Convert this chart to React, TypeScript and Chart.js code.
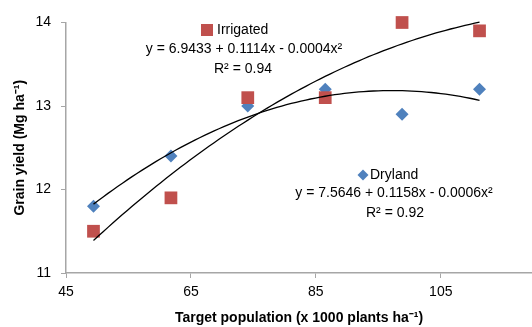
import React, { useEffect, useRef } from "react";
import { Chart, registerables } from "chart.js";

Chart.register(...registerables);

// Target population (x 1000 plants/ha)
const populations = [49.4, 61.8, 74.1, 86.5, 98.8, 111.2];
// Grain yield (Mg/ha)
const irrigatedYield = [11.5, 11.9, 13.1, 13.1, 14.0, 13.9];
const drylandYield = [11.8, 12.4, 13.0, 13.2, 12.9, 13.2];

const xTickValues = [45, 65, 85, 105];
const yTickValues = [11, 12, 13, 14];

const irrigatedName = "Irrigated";
const irrigatedEquation = "y = 6.9433 + 0.1114x - 0.0004x²";
const irrigatedR2 = "R² = 0.94";
const drylandName = "Dryland";
const drylandEquation = "y = 7.5646 + 0.1158x - 0.0006x²";
const drylandR2 = "R² = 0.92";

const xTitle = "Target population (x 1000 plants ha⁻¹)";
const yTitle = "Grain yield (Mg ha⁻¹)";

const RED = "#C0504D";
const BLUE = "#4F81BD";
const AXIS = "#A6A6A6";
const FONT = "'Liberation Sans', Arial, sans-serif";

// least-squares quadratic fit (Excel polynomial trendline, order 2)
function quadFit(xs: number[], ys: number[]) {
  const n = xs.length;
  let s1 = 0, s2 = 0, s3 = 0, s4 = 0, t0 = 0, t1 = 0, t2 = 0;
  for (let i = 0; i < n; i++) {
    const x = xs[i], y = ys[i];
    s1 += x; s2 += x * x; s3 += x * x * x; s4 += x * x * x * x;
    t0 += y; t1 += x * y; t2 += x * x * y;
  }
  const A = [
    [n, s1, s2, t0],
    [s1, s2, s3, t1],
    [s2, s3, s4, t2],
  ];
  for (let c = 0; c < 3; c++) {
    let p = c;
    for (let r = c + 1; r < 3; r++) if (Math.abs(A[r][c]) > Math.abs(A[p][c])) p = r;
    [A[c], A[p]] = [A[p], A[c]];
    for (let r = 0; r < 3; r++) {
      if (r === c) continue;
      const f = A[r][c] / A[c][c];
      for (let k = c; k < 4; k++) A[r][k] -= f * A[c][k];
    }
  }
  return [A[0][3] / A[0][0], A[1][3] / A[1][1], A[2][3] / A[2][2]];
}

function trendPoints(xs: number[], ys: number[]) {
  const [a, b, c] = quadFit(xs, ys);
  const lo = Math.min(...xs), hi = Math.max(...xs);
  const pts: { x: number; y: number }[] = [];
  const steps = 80;
  for (let i = 0; i <= steps; i++) {
    const x = lo + ((hi - lo) * i) / steps;
    pts.push({ x, y: a + b * x + c * x * x });
  }
  return pts;
}

const annotationPlugin = {
  id: "annotations",
  afterDatasetsDraw(chart: any) {
    const ctx = chart.ctx as CanvasRenderingContext2D;
    ctx.save();
    ctx.fillStyle = "#000";
    ctx.font = `14px ${FONT}`;
    ctx.textBaseline = "middle";

    // Irrigated legend + equation
    ctx.fillStyle = RED;
    ctx.fillRect(201, 24, 12, 12);
    ctx.fillStyle = "#000";
    ctx.textAlign = "left";
    ctx.fillText(irrigatedName, 217, 30);
    ctx.textAlign = "center";
    ctx.fillText(irrigatedEquation, 244, 49);
    ctx.fillText(irrigatedR2, 243, 69);

    // Dryland legend + equation
    ctx.fillStyle = BLUE;
    ctx.beginPath();
    ctx.moveTo(363, 169.5);
    ctx.lineTo(368.5, 175);
    ctx.lineTo(363, 180.5);
    ctx.lineTo(357.5, 175);
    ctx.closePath();
    ctx.fill();
    ctx.fillStyle = "#000";
    ctx.textAlign = "left";
    ctx.fillText(drylandName, 370, 175);
    ctx.textAlign = "center";
    ctx.fillText(drylandEquation, 394, 193);
    ctx.fillText(drylandR2, 395, 213);
    ctx.restore();
  },
};

export default function App() {
  const ref = useRef<HTMLCanvasElement | null>(null);

  useEffect(() => {
    if (!ref.current) return;
    const chart = new Chart(ref.current, {
      type: "scatter",
      data: {
        datasets: [
          {
            label: "Irrigated trend",
            data: trendPoints(populations, irrigatedYield),
            showLine: true,
            borderColor: "#000",
            borderWidth: 1.3,
            pointRadius: 0,
            tension: 0,
            clip: false,
          } as any,
          {
            label: "Dryland trend",
            data: trendPoints(populations, drylandYield),
            showLine: true,
            borderColor: "#000",
            borderWidth: 1.3,
            pointRadius: 0,
            tension: 0,
            clip: false,
          } as any,
          {
            label: irrigatedName,
            data: populations.map((x, i) => ({ x, y: irrigatedYield[i] })),
            pointStyle: "rect",
            pointRadius: 9,
            backgroundColor: RED,
            borderColor: RED,
            borderWidth: 0,
            clip: false,
          } as any,
          {
            label: drylandName,
            data: populations.map((x, i) => ({ x, y: drylandYield[i] })),
            pointStyle: "rectRot",
            pointRadius: 6.5,
            backgroundColor: BLUE,
            borderColor: BLUE,
            borderWidth: 0,
            clip: false,
          } as any,
        ],
      },
      options: {
        animation: false,
        responsive: false,
        devicePixelRatio: 1,
        layout: { autoPadding: false, padding: { top: 22.5, right: 0, left: 0, bottom: 0 } },
        plugins: {
          legend: { display: false },
          tooltip: { enabled: false },
        },
        scales: {
          x: {
            type: "linear",
            min: 45,
            max: 119.6,
            afterBuildTicks: (s: any) => {
              s.ticks = xTickValues.map((v) => ({ value: v }));
            },
            afterFit: (s: any) => {
              s.height = 54;
              s.paddingLeft = 0;
              s.paddingRight = 0;
            },
            grid: {
              display: true,
              drawOnChartArea: false,
              drawTicks: true,
              tickLength: 5,
              color: AXIS,
            },
            border: { display: true, color: AXIS, width: 1.5 },
            ticks: {
              color: "#000",
              font: { size: 14, family: FONT },
              padding: 6,
              maxRotation: 0,
            },
            title: {
              display: true,
              text: xTitle,
              color: "#000",
              font: { size: 14, weight: "bold", family: FONT },
              padding: { top: 0, bottom: 0 },
            },
          },
          y: {
            type: "linear",
            min: 11,
            max: 14,
            afterBuildTicks: (s: any) => {
              s.ticks = yTickValues.map((v) => ({ value: v }));
            },
            afterFit: (s: any) => {
              s.width = 66;
              s.paddingTop = 0;
              s.paddingBottom = 0;
            },
            grid: {
              display: true,
              drawOnChartArea: false,
              drawTicks: true,
              tickLength: 5,
              color: AXIS,
            },
            border: { display: true, color: AXIS, width: 1.5 },
            ticks: {
              color: "#000",
              font: { size: 14, family: FONT },
              padding: 10,
            },
            title: {
              display: true,
              text: yTitle,
              color: "#000",
              font: { size: 14, weight: "bold", family: FONT },
              padding: { top: 12, bottom: 0 },
            },
          },
        },
      } as any,
      plugins: [annotationPlugin],
    });
    return () => chart.destroy();
  }, []);

  return (
    <div style={{ position: "fixed", left: 0, top: 0, width: 532, height: 327, background: "#fff" }}>
      <canvas ref={ref} width={532} height={327} style={{ width: 532, height: 327 }} />
    </div>
  );
}
